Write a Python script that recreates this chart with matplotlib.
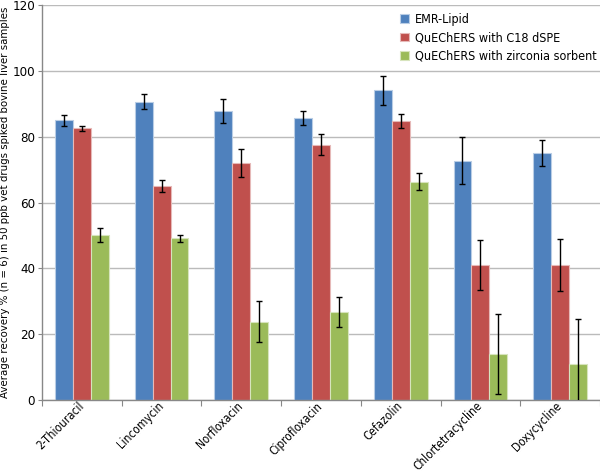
import matplotlib
matplotlib.use("Agg")
import matplotlib.pyplot as plt
import numpy as np

plt.rcParams['font.family'] = ['DejaVu Sans']
plt.rcParams['font.stretch'] = 'condensed'

categories = ["2-Thiouracil", "Lincomycin", "Norfloxacin", "Ciprofloxacin",
              "Cefazolin", "Chlortetracycline", "Doxycycline"]
series_names = ["EMR-Lipid", "QuEChERS with C18 dSPE", "QuEChERS with zirconia sorbent"]
emr = [85.0, 90.6, 87.8, 85.7, 94.2, 72.7, 75.1]
emr_err = [1.6, 2.3, 3.7, 2.2, 4.4, 7.1, 3.9]
c18 = [82.6, 65.0, 72.0, 77.6, 84.9, 41.0, 41.0]
c18_err = [0.8, 1.9, 4.2, 3.2, 2.1, 7.6, 8.0]
zr = [50.1, 49.1, 23.8, 26.8, 66.4, 14.0, 10.9]
zr_err = [2.1, 1.0, 6.3, 4.5, 2.6, 12.1, 13.8]
yticks = [0, 20, 40, 60, 80, 100, 120]

colors = ["#4F81BD", "#C0504D", "#9BBB59"]
edges = ["#B9CDE5", "#E6B9B8", "#D7E4BD"]

fig = plt.figure(figsize=(6, 4.75), dpi=100)
ax = fig.add_axes([0.07, 0.158, 0.93, 0.831])

x = np.arange(len(categories))
w = 0.225
for i, (vals, errs) in enumerate([(emr, emr_err), (c18, c18_err), (zr, zr_err)]):
    ax.bar(x + (i - 1) * w, vals, w, color=colors[i], edgecolor=edges[i], linewidth=0.8,
           label=series_names[i], zorder=2)
    ax.errorbar(x + (i - 1) * w, vals, yerr=errs, fmt='none', ecolor='black',
                elinewidth=1.0, capsize=2.3, capthick=1.0, zorder=3)

ax.set_xlim(-0.5, len(categories) - 0.5)
ax.set_ylim(0, 120)
ax.set_yticks(yticks)
ax.set_yticklabels([str(t) for t in yticks], fontsize=9.5)
ax.set_xticks(np.arange(len(categories) + 1) - 0.5, minor=False)
ax.set_xticklabels([])
ax.set_xticks(x, minor=True)
ax.set_xticklabels(categories, minor=True, rotation=45, ha='right', va='center',
                   rotation_mode='anchor', fontsize=8.5)
ax.tick_params(axis='x', which='minor', length=0, pad=3)
ax.tick_params(axis='x', which='major', length=4, color='#888888', direction='out')
ax.tick_params(axis='y', length=3, color='#888888', direction='out', pad=2)
ax.grid(axis='y', color='#BBBBBB', linewidth=1.0, zorder=0)
ax.set_axisbelow(True)
for s in ['top', 'right']:
    ax.spines[s].set_visible(False)
for s in ['left', 'bottom']:
    ax.spines[s].set_color('#888888')
    ax.spines[s].set_linewidth(1.0)

ax.set_ylabel("Average recovery % (n = 6) in 50 ppb vet drugs spiked bovine liver samples",
              fontsize=8.2)
ax.yaxis.set_label_coords(-0.058, 0.5)

leg = ax.legend(loc='upper left', bbox_to_anchor=(0.628, 1.0), frameon=False, fontsize=9,
                handlelength=0.7, handleheight=0.7, handletextpad=0.5, labelspacing=0.45,
                borderaxespad=0.2)

fig.savefig("out.png", dpi=100)
